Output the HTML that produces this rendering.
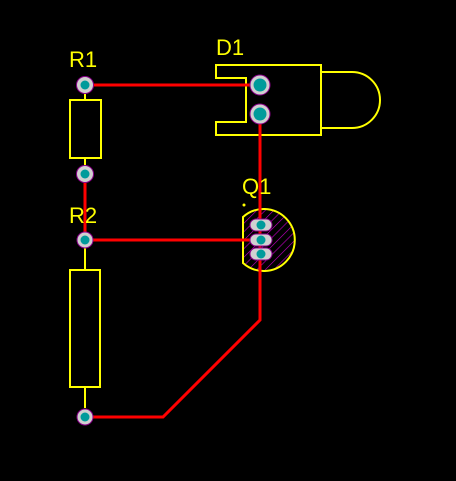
<!DOCTYPE html>
<html><head><meta charset="utf-8"><style>
html,body{margin:0;padding:0;background:#000;width:456px;height:481px;overflow:hidden}
text{font-family:"Liberation Sans",sans-serif;font-size:22px;fill:#ffff00}
</style></head><body>
<svg width="456" height="481" viewBox="0 0 456 481">
<defs>
<pattern id="hatch" width="6" height="6" patternUnits="userSpaceOnUse" patternTransform="rotate(45)">
<line x1="0" y1="0" x2="0" y2="6" stroke="#c000c0" stroke-width="1.2"/>
</pattern>
<clipPath id="qclip"><path d="M243,217 A31,31 0 1 1 243,263 Z"/></clipPath>
</defs>
<g fill="none" stroke="#ffff00" stroke-width="2">
<line x1="85" y1="92" x2="85" y2="100"/>
<rect x="70" y="100" width="31" height="58"/>
<line x1="85" y1="158" x2="85" y2="167"/>
<line x1="85" y1="248" x2="85" y2="270"/>
<rect x="70" y="270" width="30" height="117"/>
<line x1="85" y1="387" x2="85" y2="408"/>
<path d="M216,65 H321 V135 H216 V122 H246 V78 H216 Z"/>
<path d="M321,72 H352 A28,28 0 0 1 352,128 H321"/>
</g>
<rect x="230" y="205" width="70" height="70" fill="url(#hatch)" clip-path="url(#qclip)"/>
<path d="M243,217 A31,31 0 1 1 243,263 Z" fill="none" stroke="#ffff00" stroke-width="2"/>
<circle cx="244" cy="205" r="1.5" fill="#ffff00"/>
<g fill="none" stroke="#ff0000" stroke-width="3">
<line x1="85" y1="85" x2="260" y2="85"/>
<line x1="85" y1="174" x2="85" y2="240"/>
<line x1="85" y1="240" x2="260" y2="240"/>
<polyline points="260,114 260,320 163,417 85,417"/>
</g>
<g stroke="#8b008b" stroke-width="1">
<circle cx="85" cy="85" r="8.5" fill="#d0d0d0"/>
<circle cx="85" cy="174" r="8.5" fill="#d0d0d0"/>
<circle cx="85" cy="240" r="8" fill="#d0d0d0"/>
<circle cx="85" cy="417" r="8" fill="#d0d0d0"/>
<circle cx="260" cy="85" r="10" fill="#d0d0d0"/>
<circle cx="260" cy="114" r="10" fill="#d0d0d0"/>
<rect x="250" y="219" width="22" height="12" rx="6" fill="#d0d0d0"/>
<rect x="250" y="234" width="22" height="12" rx="6" fill="#d0d0d0"/>
<rect x="250" y="248" width="22" height="12" rx="6" fill="#d0d0d0"/>
</g>
<g fill="#009b9b">
<circle cx="85" cy="85" r="4.5"/><circle cx="85" cy="174" r="4.5"/>
<circle cx="85" cy="240" r="4.5"/><circle cx="85" cy="417" r="4.5"/>
<circle cx="260" cy="85" r="6.5"/><circle cx="260" cy="114" r="6.5"/>
<circle cx="261" cy="225" r="4.5"/><circle cx="261" cy="240" r="4.5"/><circle cx="261" cy="254" r="4.5"/>
</g>
<text x="69" y="67">R1</text>
<text x="216" y="55">D1</text>
<text x="242" y="194">Q1</text>
<text x="69" y="223">R2</text>
</svg>
</body></html>
